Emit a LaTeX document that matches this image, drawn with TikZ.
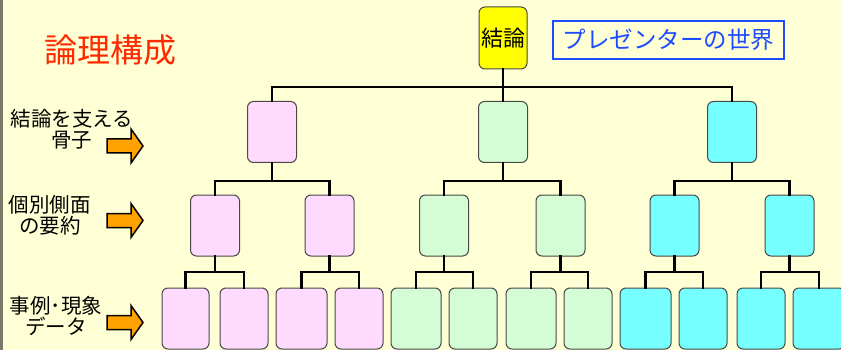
\documentclass[tikz,border=0pt]{standalone}
\usepackage{fontspec}
\setmainfont{Noto Sans CJK JP}
\definecolor{bgc}{HTML}{FFFFD5}
\definecolor{pinkc}{HTML}{FFDAFF}
\definecolor{greenc}{HTML}{D5FDD5}
\definecolor{cyanc}{HTML}{75FFFF}
\definecolor{yelc}{HTML}{FFFF00}
\definecolor{edgec}{HTML}{484848}
\definecolor{bluec}{HTML}{1E4BFF}
\definecolor{redc}{HTML}{FF2A00}
\definecolor{orangec}{HTML}{FFA200}
\definecolor{grayc}{HTML}{7A7A6A}
\tikzset{
  box/.style={draw=edgec, line width=1pt, rounded corners=6pt, inner sep=0pt, minimum height=61pt, minimum width=49pt},
  pbox/.style={box, fill=pinkc},
  gbox/.style={box, fill=greenc},
  cbox/.style={box, fill=cyanc},
  conn/.style={line width=2.8pt, line join=miter, line cap=rect},
  lbl/.style={font=\fontsize{20.5}{21}\selectfont, align=center, inner sep=0pt},
  arrowshape/.style={fill=orangec, draw=black, line width=1.5pt, line join=miter},
  pics/blockarrow/.style={code={
    \draw[arrowshape] (0,-7) -- (24,-7) -- (24,-17) -- (36,0) -- (24,17) -- (24,7) -- (0,7) -- cycle;
  }}
}
\begin{document}
\begin{tikzpicture}[x=1pt,y=-1pt]
\useasboundingbox (0,0) rectangle (841,350);
\clip (0,0) rectangle (841,350);
\fill[bgc] (0,0) rectangle (841,350);
\draw[grayc, line width=3pt] (1.5,-2) -- (1.5,352);

% title texts
\node[text=redc, font=\fontsize{33}{36}\selectfont, inner sep=0pt] (title) at (110,50) {論理構成};
\node[draw=bluec, line width=2pt, text=bluec, font=\fontsize{23.5}{26}\selectfont, minimum width=231pt, minimum height=38pt, inner sep=0pt] (world) at (668.5,40) {プレゼンターの世界};

% top
\node[box, fill=yelc, minimum width=48pt, minimum height=62pt, font=\fontsize{22}{24}\selectfont] (top) at (503,38) {結論};

% level 1
\node[pbox] (p) at (272,132) {};
\node[gbox] (g) at (503,132) {};
\node[cbox] (c) at (732,132) {};

% level 2
\node[pbox] (p1) at (215,225.5) {};
\node[pbox] (p2) at (329.5,225.5) {};
\node[gbox] (g1) at (444,225.5) {};
\node[gbox] (g2) at (560.5,225.5) {};
\node[cbox] (c1) at (674.5,225.5) {};
\node[cbox] (c2) at (789.5,225.5) {};

% level 3
\node[pbox, minimum width=47pt] (p11) at (185.5,318.5) {};
\node[pbox, minimum width=48pt] (p12) at (244,318.5) {};
\node[pbox, minimum width=51pt] (p21) at (301.5,318.5) {};
\node[pbox, minimum width=48pt] (p22) at (359,318.5) {};
\node[gbox, minimum width=50pt] (g11) at (416,318.5) {};
\node[gbox, minimum width=48pt] (g12) at (473,318.5) {};
\node[gbox, minimum width=50pt] (g21) at (531,318.5) {};
\node[gbox, minimum width=48pt] (g22) at (588,318.5) {};
\node[cbox, minimum width=51pt] (c11) at (645.5,318.5) {};
\node[cbox, minimum width=48pt] (c12) at (703,318.5) {};
\node[cbox, minimum width=48pt] (c21) at (761,318.5) {};
\node[cbox, minimum width=52pt] (c22) at (819,318.5) {};

% bus coordinates
\coordinate (b0) at (0,87);
\coordinate (b1) at (0,181);
\coordinate (b2) at (0,272);

% connectors top -> level 1
\draw[conn] (top.south) -- (top.south |- b0);
\draw[conn] (p.north) -- (p.north |- b0) -- (c.north |- b0) -- (c.north);
\draw[conn] (g.north) -- (g.north |- b0);

% level1 -> level2
\foreach \a/\l/\r in {p/p1/p2, g/g1/g2, c/c1/c2}{
  \draw[conn] (\a.south) -- (\a.south |- b1);
  \draw[conn] (\l.north) -- (\l.north |- b1) -- (\r.north |- b1) -- (\r.north);
}
% level2 -> level3
\foreach \a in {p1,p2,g1,g2,c1,c2}{
  \draw[conn] (\a.south) -- (\a.south |- b2);
  \draw[conn] (\a1.north) -- (\a1.north |- b2) -- (\a2.north |- b2) -- (\a2.north);
}

% left labels
\node[lbl] (lab1) at (72,129) {結論を支える\\骨子};
\node[lbl] (lab2) at (50,215) {個別側面\\の要約};
\node[lbl] (lab3) at (56,316) {事例･現象\\データ};

% arrows
\pic (arr1) at (107,146) {blockarrow};
\pic (arr2) at (107,220.5) {blockarrow};
\pic (arr3) at (107,322.5) {blockarrow};
\end{tikzpicture}
\end{document}
